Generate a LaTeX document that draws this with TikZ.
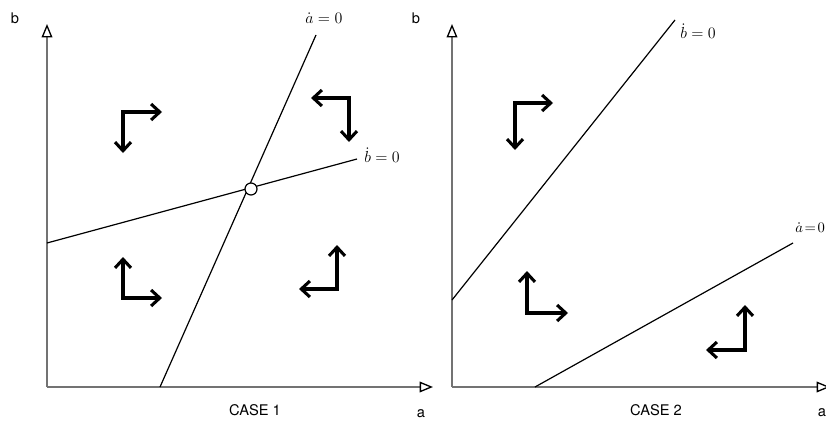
\documentclass[tikz,border=0pt]{standalone}
\usepackage{fontspec}
\setsansfont{TeX Gyre Heros}
\usetikzlibrary{arrows.meta}
\begin{document}
\begin{tikzpicture}[x=0.75pt,y=-0.75pt,
  axis/.style={draw=black!55,line width=1.4pt,-{Triangle[open,length=10pt,width=8pt,line width=1pt,color=black]}},
  nullc/.style={draw=black,line width=0.9pt},
  flow/.style={draw=black,line width=2.3pt,{Straight Barb[length=6.5pt,width=12pt,line width=2.3pt]}-{Straight Barb[length=6.5pt,width=12pt,line width=2.3pt]}},
  axlab/.style={font=\sffamily\fontsize{11}{13}\selectfont,inner sep=0pt},
  mlab/.style={font=\fontsize{12}{14}\selectfont,inner sep=0pt,anchor=west}]
\useasboundingbox (0,0) rectangle (826,421);
% ---------- CASE 1 ----------
\coordinate (O1) at (47,387);
\coordinate (Y1) at (47,24);
\coordinate (X1) at (433,387);
\draw[axis] (O1) -- (Y1);
\draw[axis] (O1) -- (X1);
\node[axlab] (b1) at (15,18) {b};
\node[axlab] (a1) at (421,414) {a};
\node[axlab] (c1) at (255,410) {CASE 1};
\coordinate (A1s) at (160,387);
\coordinate (A1e) at (316,35);
\coordinate (B1s) at (47,243);
\coordinate (B1e) at (357,159);
\draw[nullc] (A1s) -- (A1e);
\draw[nullc] (B1s) -- (B1e);
\node[mlab] (la1) at (305,18) {$\dot a = 0$};
\node[mlab] (lb1) at (364,155) {$\dot b = 0$};
\node[draw=black,line width=0.9pt,circle,fill=white,minimum size=9pt,inner sep=0pt] (eq) at (251,189) {};
% flow arrows case 1
\coordinate (k1) at (123,112); \coordinate (k1r) at (162,112); \coordinate (k1d) at (123,153);
\draw[flow] (k1r) -- (k1) -- (k1d);
\coordinate (k2) at (349,98); \coordinate (k2l) at (311,98); \coordinate (k2d) at (349,142);
\draw[flow] (k2l) -- (k2) -- (k2d);
\coordinate (k3) at (123,298); \coordinate (k3u) at (123,257); \coordinate (k3r) at (162,298);
\draw[flow] (k3u) -- (k3) -- (k3r);
\coordinate (k4) at (337,289); \coordinate (k4u) at (337,245); \coordinate (k4l) at (299,289);
\draw[flow] (k4u) -- (k4) -- (k4l);
% ---------- CASE 2 ----------
\coordinate (O2) at (452,387);
\coordinate (Y2) at (452,24);
\coordinate (X2) at (830,387);
\draw[axis] (O2) -- (Y2);
\draw[axis] (O2) -- (X2);
\node[axlab] (b2) at (416,18) {b};
\node[axlab] (a2) at (822,413) {a};
\node[axlab] (c2) at (656,410) {CASE 2};
\coordinate (B2s) at (452,300);
\coordinate (B2e) at (675,20);
\coordinate (A2s) at (535,387);
\coordinate (A2e) at (793,243);
\draw[nullc] (B2s) -- (B2e);
\draw[nullc] (A2s) -- (A2e);
\node[mlab] (lb2) at (680,31) {$\dot b = 0$};
\node[mlab,font=\fontsize{11}{13}\selectfont] (la2) at (795,228) {$\dot a\!=\!0$};
% flow arrows case 2
\coordinate (m1) at (515,103); \coordinate (m1r) at (553,103); \coordinate (m1d) at (515,150);
\draw[flow] (m1r) -- (m1) -- (m1d);
\coordinate (m2) at (527,313); \coordinate (m2u) at (527,271); \coordinate (m2r) at (568,313);
\draw[flow] (m2u) -- (m2) -- (m2r);
\coordinate (m3) at (745,350); \coordinate (m3u) at (745,305); \coordinate (m3l) at (706,350);
\draw[flow] (m3u) -- (m3) -- (m3l);
\end{tikzpicture}
\end{document}
